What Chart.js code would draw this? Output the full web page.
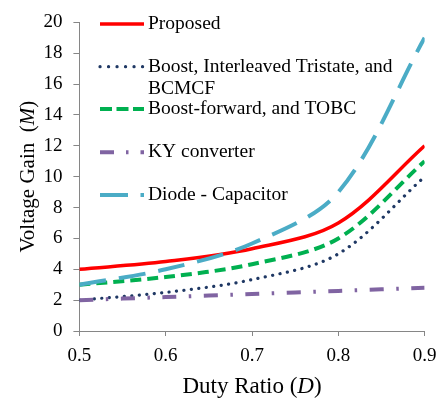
<!DOCTYPE html>
<html><head><meta charset="utf-8">
<script src="https://cdn.jsdelivr.net/npm/chart.js@4"></script>
<style>html,body{margin:0;padding:0;background:#fff}#wrap{width:445px;height:402px;position:relative}
.pre{position:absolute;left:-999px;top:0;font-family:"Liberation Serif";font-size:19px}</style>
</head><body><span class="pre">Proposed 0.5</span><span class="pre" style="font-style:italic">DM</span><div id="wrap"><canvas id="c"></canvas></div>
<script>
// ---- data ----
const dutyRatio        = [0.5, 0.6, 0.7, 0.8, 0.9];
const proposed         = [4, 4.5, 5.33, 7, 12];
const boostInterleaved = [2, 2.5, 3.33, 5, 10];
const boostForward     = [3, 3.5, 4.33, 6, 11];
const kyConverter      = [2, 2.2, 2.4, 2.6, 2.8];
const diodeCapacitor   = [3, 4, 5.67, 9, 19];
const xTickValues      = [0.5, 0.6, 0.7, 0.8, 0.9];
const yTickValues      = [0, 2, 4, 6, 8, 10, 12, 14, 16, 18, 20];
const seriesNames      = ['Proposed', ['Boost, Interleaved Tristate, and', 'BCMCF'], 'Boost-forward, and TOBC', 'KY converter', 'Diode - Capacitor'];
const xTitle = ['Duty Ratio (', 'D', ')'];
const yTitle = ['Voltage Gain  (', 'M', ')'];

const FONT = '"Liberation Serif", "Times New Roman", serif';
const AXIS = '#868686';
const pts = ys => dutyRatio.map((x, i) => ({x, y: ys[i]}));

const styles = [
  {color:'#FF0000', width:3.5, dash:[], cap:'butt', legendDash:[]},
  {color:'#1F3864', width:3.2, dash:[0.1, 7.4], cap:'round', legendDash:[0.1, 8.4]},
  {color:'#00B050', width:4, dash:[11, 6], cap:'butt', legendDash:[12, 4.5]},
  {color:'#8064A2', width:4, dash:[14, 12.5, 2.5, 12.5], cap:'butt', legendDash:[14, 12, 2.5, 12]},
  {color:'#4BACC6', width:4, dash:[27, 13], cap:'butt', legendDash:[28, 12.5]}
];
const seriesData = [proposed, boostInterleaved, boostForward, kyConverter, diodeCapacitor];

const datasets = seriesData.map((d, i) => ({
  label: Array.isArray(seriesNames[i]) ? seriesNames[i].join(' ') : seriesNames[i],
  data: pts(d),
  borderColor: styles[i].color,
  backgroundColor: styles[i].color,
  borderWidth: styles[i].width,
  borderDash: styles[i].dash,
  borderCapStyle: styles[i].cap,
  pointRadius: 0,
  tension: 0.33,
  fill: false,
  order: 5 - i
}));

const legendPlugin = {
  id: 'customLegend',
  afterDraw(chart) {
    const ctx = chart.ctx, ca = chart.chartArea;
    const x0 = ca.left + 20.6, x1 = ca.left + 64.6, tx = ca.left + 68.6;
    const rows = [24, 66.7, 109, 152.3, 195];
    ctx.save();
    ctx.font = "19.5px " + FONT;
    ctx.textBaseline = 'middle';
    ctx.fillStyle = '#000';
    seriesNames.forEach((name, i) => {
      const y = rows[i];
      const s = styles[i];
      ctx.beginPath();
      ctx.setLineDash(s.legendDash);
      ctx.lineCap = s.cap;
      ctx.lineWidth = s.width;
      ctx.strokeStyle = s.color;
      ctx.moveTo(x0, y); ctx.lineTo(x1, y);
      ctx.stroke();
      ctx.setLineDash([]);
      const lines = Array.isArray(name) ? name : [name];
      lines.forEach((t, k) => ctx.fillText(t, tx, y + k * 21.7));
    });
    ctx.restore();
  }
};

function drawMixed(ctx, parts, cx, cy, size) {
  const fonts = [size + "px " + FONT, "italic " + size + "px " + FONT, size + "px " + FONT];
  let widths = parts.map((p, i) => { ctx.font = fonts[i]; return ctx.measureText(p).width; });
  const total = widths.reduce((a, b) => a + b, 0);
  let x = cx - total / 2;
  parts.forEach((p, i) => { ctx.font = fonts[i]; ctx.fillText(p, x, cy); x += widths[i]; });
}

const titlePlugin = {
  id: 'axisTitles',
  afterDraw(chart) {
    const ctx = chart.ctx, ca = chart.chartArea;
    ctx.save();
    ctx.fillStyle = '#000';
    ctx.textBaseline = 'alphabetic';
    drawMixed(ctx, xTitle, (ca.left + ca.right) / 2, 392.5, 23);
    ctx.translate(34, (ca.top + ca.bottom) / 2);
    ctx.rotate(-Math.PI / 2);
    drawMixed(ctx, yTitle, 0, 0, 21);
    ctx.restore();
  }
};

function build() {
  new Chart(document.getElementById('c'), {
    type: 'line',
    data: { datasets },
    options: {
      responsive: true,
      maintainAspectRatio: false,
      animation: false,
      layout: { padding: { top: 12.7, right: 16.7, left: 0, bottom: 0 } },
      plugins: { legend: { display: false }, tooltip: { enabled: false } },
      scales: {
        x: {
          type: 'linear', min: 0.5, max: 0.9,
          afterBuildTicks: s => { s.ticks = xTickValues.map(v => ({value: v})); },
          afterFit: s => { s.height = 71; },
          grid: { display: true, drawOnChartArea: false, drawTicks: true, tickLength: 5, color: AXIS },
          border: { display: true, color: AXIS, width: 1 },
          ticks: { font: { family: FONT, size: 19 }, color: '#000', padding: 8.5, maxRotation: 0,
                   callback: v => v.toFixed(1) }
        },
        y: {
          type: 'linear', min: 0, max: 20,
          afterBuildTicks: s => { s.ticks = yTickValues.map(v => ({value: v})); },
          afterFit: s => { s.width = 79.4; },
          grid: { display: true, drawOnChartArea: false, drawTicks: true, tickLength: 6, color: AXIS },
          border: { display: true, color: AXIS, width: 1 },
          ticks: { font: { family: FONT, size: 19 }, color: '#000', padding: 11,
                   callback: v => String(v) }
        }
      }
    },
    plugins: [legendPlugin, titlePlugin]
  });
}
Promise.all([
  document.fonts.load('19px "Liberation Serif"'),
  document.fonts.load('italic 19px "Liberation Serif"')
]).then(build, build);
</script></body></html>
